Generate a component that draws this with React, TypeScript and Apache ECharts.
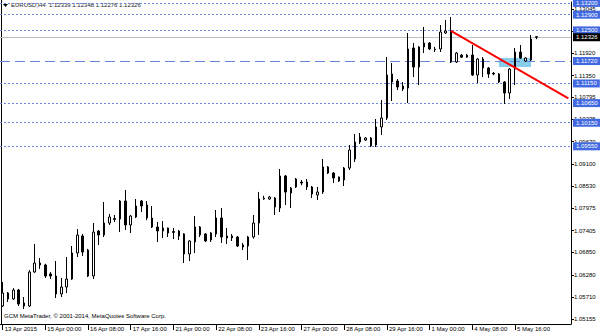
import React, { useEffect, useRef } from 'react';
import * as echarts from 'echarts';

// EURUSD H4 candles (open, close, low, high)
const opens = [
  1.05486, 1.05817, 1.05664, 1.05893, 1.05563, 1.05486, 1.06351, 1.0658, 1.0653, 1.06301,
  1.0625, 1.05792, 1.0597, 1.06173, 1.06835, 1.07268, 1.0691, 1.0625, 1.07395, 1.07293,
  1.07598, 1.0771, 1.077, 1.08158, 1.07548, 1.07751, 1.08158, 1.08057, 1.07726, 1.07497,
  1.07395, 1.07471, 1.0738, 1.07395, 1.07319, 1.0681, 1.07115, 1.07497, 1.07319, 1.07166,
  1.07319, 1.07726, 1.07268, 1.0727, 1.07242, 1.07039, 1.07013, 1.07242, 1.07598, 1.0823,
  1.08209, 1.08235, 1.0798, 1.08795, 1.08362, 1.08515, 1.08642, 1.08642, 1.08515, 1.08311,
  1.08387, 1.09024, 1.08871, 1.08769, 1.08693, 1.08998, 1.09227, 1.0966, 1.09711, 1.09762,
  1.09584, 1.10042, 1.10271, 1.11391, 1.11212, 1.11085, 1.11034, 1.12052, 1.11569, 1.12078,
  1.12179, 1.1202, 1.12027, 1.12434, 1.12485, 1.11696, 1.1187, 1.1182, 1.11874, 1.11365,
  1.11772, 1.11543, 1.1141, 1.11391, 1.11187, 1.10907, 1.11518, 1.1195, 1.11721, 1.11747,
  1.12339,
];
const closes = [
  1.05817, 1.05664, 1.05893, 1.05537, 1.05486, 1.06351, 1.0658, 1.0653, 1.0625, 1.0625,
  1.05792, 1.0597, 1.06173, 1.06835, 1.07293, 1.0686, 1.0625, 1.07369, 1.07293, 1.07598,
  1.07751, 1.0769, 1.08158, 1.07548, 1.07777, 1.08031, 1.08031, 1.07726, 1.07497, 1.07395,
  1.07471, 1.07344, 1.0736, 1.07268, 1.0681, 1.0714, 1.07497, 1.07293, 1.0714, 1.07344,
  1.07726, 1.07242, 1.07217, 1.0722, 1.07013, 1.06988, 1.07242, 1.07598, 1.08209, 1.0821,
  1.0826, 1.08006, 1.08795, 1.08387, 1.08489, 1.08718, 1.08616, 1.08515, 1.08337, 1.08387,
  1.09024, 1.08871, 1.08744, 1.08667, 1.08998, 1.09456, 1.0966, 1.09787, 1.09762, 1.09558,
  1.10042, 1.10271, 1.11365, 1.11187, 1.1106, 1.11009, 1.12027, 1.11569, 1.12078, 1.12179,
  1.12027, 1.1201, 1.12459, 1.12485, 1.11696, 1.11925, 1.1182, 1.1187, 1.11365, 1.11772,
  1.11543, 1.11391, 1.1139, 1.11187, 1.10907, 1.11518, 1.1195, 1.11798, 1.11798, 1.12281,
  1.12326,
];
const lows = [
  1.05461, 1.05588, 1.0564, 1.05486, 1.0541, 1.0546, 1.0633, 1.0643, 1.06199, 1.06173,
  1.0569, 1.05715, 1.05817, 1.0615, 1.06733, 1.0676, 1.06224, 1.06173, 1.07039, 1.07242,
  1.07548, 1.07624, 1.07369, 1.0742, 1.07344, 1.07726, 1.07878, 1.0767, 1.07471, 1.07115,
  1.07217, 1.07242, 1.0719, 1.07166, 1.0658, 1.06631, 1.06835, 1.07242, 1.07115, 1.07115,
  1.07242, 1.07089, 1.07064, 1.0714, 1.06988, 1.0691, 1.06657, 1.072, 1.07293, 1.0819,
  1.0819, 1.07802, 1.07878, 1.08057, 1.0798, 1.08489, 1.0856, 1.0844, 1.08235, 1.08184,
  1.08337, 1.08846, 1.08616, 1.08642, 1.0854, 1.08947, 1.09151, 1.0961, 1.09685, 1.09533,
  1.09533, 1.09838, 1.1022, 1.10703, 1.10983, 1.10958, 1.10652, 1.11314, 1.11111, 1.11925,
  1.12, 1.1195, 1.1195, 1.1241, 1.1167, 1.1167, 1.118, 1.118, 1.1134, 1.11161,
  1.11314, 1.1129, 1.1136, 1.11161, 1.10627, 1.10754, 1.11111, 1.11772, 1.117, 1.1172,
  1.12276,
];
const highs = [
  1.06097, 1.05842, 1.0594, 1.0592, 1.05715, 1.064, 1.07064, 1.06708, 1.0656, 1.06351,
  1.06631, 1.06199, 1.06733, 1.07013, 1.07446, 1.07319, 1.0694, 1.07598, 1.0742, 1.08133,
  1.0783, 1.07802, 1.08184, 1.08438, 1.078, 1.08209, 1.08184, 1.08158, 1.08031, 1.07624,
  1.07649, 1.0748, 1.07471, 1.0742, 1.0734, 1.0716, 1.07777, 1.07522, 1.07344, 1.07369,
  1.07929, 1.0798, 1.07471, 1.07319, 1.07268, 1.07089, 1.0727, 1.07802, 1.0839, 1.0829,
  1.0829, 1.0826, 1.08973, 1.0882, 1.08515, 1.08744, 1.08693, 1.08718, 1.0854, 1.08515,
  1.09227, 1.09049, 1.08896, 1.0878, 1.09024, 1.09584, 1.09864, 1.09889, 1.09787, 1.09787,
  1.10245, 1.10729, 1.11823, 1.1167, 1.11263, 1.11187, 1.12434, 1.12179, 1.121, 1.12587,
  1.122, 1.1208, 1.12638, 1.12765, 1.12841, 1.1195, 1.119, 1.119, 1.12129, 1.118,
  1.11823, 1.11569, 1.1144, 1.11416, 1.11212, 1.1154, 1.12052, 1.12129, 1.1182, 1.12383,
  1.12348,
];

const xTickLabels = [
  '13 Apr 2015', '15 Apr 00:00', '16 Apr 08:00', '17 Apr 16:00', '21 Apr 00:00',
  '22 Apr 08:00', '23 Apr 16:00', '27 Apr 00:00', '28 Apr 08:00', '29 Apr 16:00',
  '1 May 00:00', '4 May 08:00', '5 May 16:00',
];
const xTickEvery = 8;
const slotCount = 107;

const yTicks = [
  1.05155, 1.0571, 1.0628, 1.0685, 1.07405, 1.07975, 1.0853, 1.091, 1.0967, 1.10235,
  1.10795, 1.1135, 1.1192, 1.12475, 1.13045,
];
// 1.12475 is fully hidden behind the 1.12500 level tag in the reference
const yTickLabels = [
  1.05155, 1.0571, 1.0628, 1.0685, 1.07405, 1.07975, 1.0853, 1.091, 1.0967, 1.10235,
  1.10795, 1.1135, 1.1192, 1.13045,
];
const yMin = 1.05028;
const yMax = 1.13223;

const dottedLevels = [1.132, 1.129, 1.125, 1.1115, 1.1065, 1.1015, 1.0955];
const dashedLevels = [1.1172];
const bidPrice = 1.12326;

const trendIdx = [84, 106];
const trendPrice = [1.1249, 1.1077];

const boxIdx = [93, 99];
const boxPrice = [1.11798, 1.11569];

const headerText = 'EURUSD,H4  1.12339 1.12348 1.12276 1.12326';
const footerText = 'GCM MetaTrader, \u00a9 2001-2014, MetaQuotes Software Corp.';

const FONT = '"Liberation Sans", Arial, sans-serif';

export default function App() {
  const ref = useRef<HTMLDivElement>(null);

  useEffect(() => {
    if (!ref.current) return;
    const chart = echarts.init(ref.current, undefined, { renderer: 'svg' });
    const categories = Array.from({ length: slotCount }, (_, i) => String(i));
    const candles = opens.map((o, i) => [o, closes[i], lows[i], highs[i]]);
    const showTick = (index: number) =>
      index % xTickEvery === 0 && index / xTickEvery < xTickLabels.length;

    const levelLabel = (bg: string) => ({
      show: true,
      position: 'end',
      distance: 2,
      formatter: (p: any) => Number(p.value).toFixed(5),
      fontSize: 6,
      fontFamily: FONT,
      color: '#fff',
      backgroundColor: bg,
      padding: [1, 3, 1, 3],
    });

    const markLineData: any[] = [
      ...dottedLevels.map((v) => ({
        yAxis: v,
        lineStyle: { color: '#6a86dc', width: 1, type: [2, 2] },
        label: levelLabel('#4169e1'),
      })),
      ...dashedLevels.map((v) => ({
        yAxis: v,
        lineStyle: { color: '#6a86dc', width: 1, type: [10, 5] },
        label: levelLabel('#4169e1'),
      })),
      {
        yAxis: bidPrice,
        lineStyle: { color: '#c0c0c0', width: 1, type: 'solid' },
        label: levelLabel('#000'),
      },
    ];

    chart.setOption({
      animation: false,
      backgroundColor: '#fff',
      grid: { left: 0, right: 29, top: 2, bottom: 9 },
      xAxis: {
        type: 'category',
        data: categories,
        boundaryGap: true,
        axisLine: { show: true, lineStyle: { color: '#000', width: 1 } },
        axisTick: {
          show: true,
          alignWithLabel: true,
          interval: (index: number) => showTick(index),
          length: 6,
          lineStyle: { color: '#000' },
        },
        axisLabel: {
          interval: (index: number) => showTick(index),
          formatter: (_v: string, index: number) => xTickLabels[index / xTickEvery] ?? '',
          align: 'left',
          margin: 2,
          padding: [0, 0, 0, 2],
          fontSize: 6,
          fontFamily: FONT,
          color: '#000',
        },
        splitLine: { show: false },
      },
      yAxis: {
        type: 'value',
        position: 'right',
        min: yMin,
        max: yMax,
        scale: true,
        axisLine: { show: true, lineStyle: { color: '#000', width: 1 } },
        axisTick: { show: true, customValues: yTicks, length: 3, lineStyle: { color: '#000' } },
        axisLabel: {
          customValues: yTickLabels,
          formatter: (v: number) => v.toFixed(5),
          margin: 3,
          fontSize: 6,
          fontFamily: FONT,
          color: '#000',
        },
        splitLine: { show: false },
      },
      series: [
        {
          type: 'candlestick',
          data: candles,
          barWidth: 2,
          z: 2,
          itemStyle: {
            color: '#fff',
            color0: '#000',
            borderColor: '#000',
            borderColor0: '#000',
            borderWidth: 1,
          },
          markLine: {
            silent: true,
            symbol: 'none',
            precision: 5,
            z: 1,
            animation: false,
            data: markLineData,
          },
          markArea: {
            silent: true,
            z: 1,
            itemStyle: { color: '#87ceeb' },
            data: [[
              { xAxis: boxIdx[0], yAxis: boxPrice[0] },
              { xAxis: boxIdx[1], yAxis: boxPrice[1] },
            ]],
          },
        },
        {
          type: 'line',
          data: trendIdx.map((x, i) => [x, trendPrice[i]]),
          symbol: 'none',
          z: 10,
          silent: true,
          lineStyle: { color: '#ff0000', width: 2 },
        },
      ],
      graphic: [
        {
          type: 'line',
          shape: { x1: 1.5, y1: 0, x2: 1.5, y2: 324 },
          style: { stroke: '#000', lineWidth: 1 },
        },
        {
          type: 'polygon',
          shape: { points: [[3, 4], [8, 4], [5.5, 7]] },
          style: { fill: '#000' },
        },
        {
          type: 'text',
          x: 11,
          y: 2,
          style: { text: headerText, fontSize: 6, fontFamily: FONT, fill: '#222' },
        },
        {
          type: 'text',
          x: 4,
          y: 313,
          style: { text: footerText, fontSize: 6, fontFamily: FONT, fill: '#000' },
        },
      ],
    });
    return () => chart.dispose();
  }, []);

  return (
    <div
      ref={ref}
      style={{ position: 'absolute', left: 0, top: 0, width: 600, height: 333, background: '#fff' }}
    />
  );
}
